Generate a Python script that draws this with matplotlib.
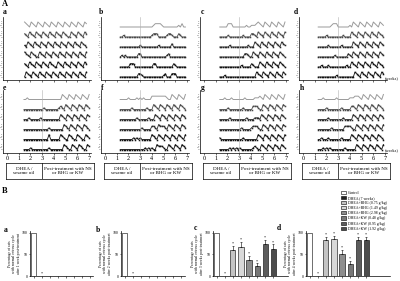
import numpy as np
import matplotlib.pyplot as plt
from matplotlib.patches import Patch

plt.rcParams['font.family'] = ['Liberation Serif', 'DejaVu Serif']

# ---------------- Part A: estrous stage per day (1=D, 2=M, 3=E, 4=P) ----------------
stage_names = ['D', 'M', 'E', 'P']
panels_A = ['a', 'b', 'c', 'd', 'e', 'f', 'g', 'h']
start_weeks = [1.5, 1.3, 1.35, 1.3, 1.45, 1.3, 1.35, 1.3]
weeks = [0, 1, 2, 3, 4, 5, 6, 7]

stages_a = [
    "43214321432143214321432143214321432143",
    "32143214321432143214321432114321432143",
    "21432143214321432143214321432143214321",
    "43214321143214321432143214321432143214",
    "32143214321432143211432143214321432143",
    "14321432143214321432143214321432143214",
]
stages_b = [
    "1111111111111111111123333211111111121311",
    "1121111111111111111233311111233211132111",
    "1111111111112111111111121111111311111111",
    "1212111111133111111111111111231111111111",
    "1111113331111111111133111111111132111111",
    "1111111111133211111111111123111333111111",
]
stages_c = [
    "1111133311111111211222343214321432143214",
    "1111121111111121111332143214321432143214",
    "1111112111111111121114321432143214321432",
    "1111111111111113321143214321432143214321",
    "1111111111111211111321114321432143214321",
    "1112111111111111111111432143214321432143",
]
stages_d = [
    "1111111123331111111214321432143214321432",
    "1111121111111112111143214321432143214321",
    "1111112111111121111114321432143214321432",
    "1111111111211111113214321432143214321432",
    "1121112111111111121143214321432143214321",
    "1111111111121111111111432143214321432143",
]
stages_e = [
    "1121111111111111111111143214321432143214",
    "1111111111112111111112321432143214321432",
    "1112111111211111111111432143214321432143",
    "1111111111111112111111114321432143214321",
    "1111111111111114111111432114321143211432",
    "1111211111111112111111114321143214321143",
]
stages_f = [
    "1111121111212121111333333333211432143214",
    "1111111211111111211143214321432143214321",
    "1111111111211111121114321432143214321432",
    "1111111111111211111332143332143214321432",
    "1111111121212111111432143214321432143214",
    "1111111111111112121211433321143214321432",
]
stages_g = [
    "1112111211111112111112223214321432143214",
    "1111121111111121111133321143214321432143",
    "1111112111111111211112221432143214321432",
    "1111111111111211111233321143214321432143",
    "2111111111111121111111143214321432143214",
    "1111112121212111111123211432143214321432",
]
stages_h = [
    "1112111111121111111222333214321432143214",
    "1111121111111121111133214321432143214321",
    "1111112111111112111114321432143214321432",
    "1111111121111111333321143214321432143214",
    "1121112111111121111143214321432143214321",
    "1112121211111111211111143214321432143214",
]
stages_A = [stages_a, stages_b, stages_c, stages_d,
            stages_e, stages_f, stages_g, stages_h]

# ---------------- Part B: percentage with normal cycle ----------------
groups = ['Control', 'DHEA (7 weeks)', 'DHEA+BHG (0.75 g/kg)', 'DHEA+BHG (1.49 g/kg)',
          'DHEA+BHG (2.98 g/kg)', 'DHEA+KW (0.48 g/kg)', 'DHEA+KW (0.95 g/kg)',
          'DHEA+KW (1.92 g/kg)']
pct_1wk = [100, 0, 0, 0, 0, 0, 0, 0]
pct_2wk = [100, 0, 0, 0, 0, 0, 0, 0]
pct_3wk = [100, 0, 60, 67, 38, 22, 75, 63]
pct_4wk = [100, 0, 83, 86, 50, 28, 83, 83]
err_1wk = [0, 0, 0, 0, 0, 0, 0, 0]
err_2wk = [0, 0, 0, 0, 0, 0, 0, 0]
err_3wk = [0, 0, 10, 12, 9, 7, 8, 10]
err_4wk = [0, 0, 8, 6, 10, 7, 8, 8]
post_labels = ['1 week', '2 weeks', '3 weeks', '4 weeks']
panels_B = ['a', 'b', 'c', 'd']
bar_colors = ['white', '#222222', '#c4c4c4', '#d8d8d8', '#8e8e8e', '#777777', '#5c5c5c', '#4c4c4c']

W, H = 400, 281
fig = plt.figure(figsize=(4, 2.81), dpi=100)


def px_axes(x0, y0, x1, y1):
    return fig.add_axes([x0 / W, 1 - y1 / H, (x1 - x0) / W, (y1 - y0) / H])


def px_text(x, y, s, **kw):
    fig.text(x / W, 1 - y / H, s, **kw)


# ---------------- draw part A ----------------
PPW = 11.7
zero_x = [7, 105, 204, 303]
rows_y = [(17, 80), (89.5, 152.5)]
row_colors = ['#9a9a9a', '#4a4a4a', '#2a2a2a', '#2a2a2a', '#111111', '#111111']
label_pos = [(3, 12), (99, 12), (201, 12), (294, 12), (3, 88), (101, 88), (201, 88), (300, 88)]

px_text(2, 4, 'A', fontweight='bold', fontsize=6, va='center')
for k, (lab, start, stages) in enumerate(zip(panels_A, start_weeks, stages_A)):
    r, c = divmod(k, 4)
    z = zero_x[c]
    y0, y1 = rows_y[r]
    ax = px_axes(z - 0.35 * PPW, y0, z + 7.15 * PPW, y1)
    ax.set_xlim(-0.35, 7.15)
    ax.set_ylim(-1.8, 36)
    for j, s in enumerate(stages):
        vals = np.array([int(ch) for ch in s])
        x = start + np.arange(len(vals)) / 7
        y = (5 - j) * 6 + vals - 1
        if j == 0:
            ax.plot(x, y, color=row_colors[0], lw=0.7)
        else:
            ax.plot(x, y, color=row_colors[j], lw=0.6, marker='s', ms=1.1, mew=0)
    if k != 0:
        ax.axvline(3, color='#b0b0b0', lw=0.4)
    ax.set_yticks([(5 - j) * 6 + l for j in range(6) for l in range(4)])
    ax.set_yticklabels(stage_names * 6)
    ax.tick_params(axis='y', length=0, labelsize=1.6, pad=0.5, labelcolor='#555555')
    ax.set_xticks(weeks)
    ax.tick_params(axis='x', length=1.2, width=0.4, labelsize=4.5, pad=1,
                   labelbottom=(r == 1))
    for sp in ['top', 'right']:
        ax.spines[sp].set_visible(False)
    for sp in ['left', 'bottom']:
        ax.spines[sp].set_linewidth(0.5)
    px_text(*label_pos[k], lab, fontweight='bold', fontsize=5.5, va='center')

px_text(385, 78, '(weeks)', fontsize=3.2, va='center')
px_text(385, 150, '(weeks)', fontsize=3.2, va='center')

for z in zero_x:
    bx = px_axes(z - 1, 163, z + 87, 179)
    bx.set_xlim(-1 / PPW, 87 / PPW)
    bx.set_ylim(0, 1)
    bx.axvline(3, color='black', lw=0.5)
    bx.set_xticks([])
    bx.set_yticks([])
    for sp in bx.spines.values():
        sp.set_linewidth(0.5)
    bx.text((3 - 1 / PPW) / 2, 0.5, 'DHEA /\nsesame oil', ha='center', va='center',
            fontsize=3.6, linespacing=1.2)
    bx.text((3 + 87 / PPW) / 2, 0.5, 'Post-treatment with NS\nor BHG or KW', ha='center',
            va='center', fontsize=3.6, linespacing=1.2)

# ---------------- draw part B ----------------
px_text(2, 191, 'B', fontweight='bold', fontsize=6, va='center')
spine_x = [30, 121, 213, 306]
widths = [63, 64, 75, 84]
labB_pos = [(4, 230), (96, 230), (194, 228), (277, 228)]
pct_all = [pct_1wk, pct_2wk, pct_3wk, pct_4wk]
err_all = [err_1wk, err_2wk, err_3wk, err_4wk]
SLOT = 8.1
pos = np.arange(len(groups))

for i in range(4):
    x0 = spine_x[i]
    ax = px_axes(x0, 231, x0 + widths[i], 276)
    ax.set_xlim(-0.45, widths[i] / SLOT - 0.45)
    ax.set_ylim(0, 104)
    vals = pct_all[i]
    errs = err_all[i]
    ax.bar(pos, vals, width=0.65, color=bar_colors, edgecolor='black', lw=0.4)
    if max(errs) > 0:
        ax.errorbar(pos[2:], vals[2:], yerr=[np.zeros(6), errs[2:]], fmt='none',
                    ecolor='black', elinewidth=0.4, capsize=0.8, capthick=0.4)
        for p, v, e in zip(pos[2:], vals[2:], errs[2:]):
            ax.text(p, v + e + 1, '*', ha='center', va='bottom', fontsize=3)
    ax.text(pos[1], vals[1] + 1, '*', ha='center', va='bottom', fontsize=3)
    ax.set_yticks([0, 50, 100])
    ax.set_xticks(pos)
    ax.set_xticklabels([])
    ax.tick_params(axis='y', length=1.0, width=0.4, labelsize=2.8, pad=0.6)
    ax.tick_params(axis='x', length=1.2, width=0.4)
    for sp in ['top', 'right']:
        ax.spines[sp].set_visible(False)
    for sp in ['left', 'bottom']:
        ax.spines[sp].set_linewidth(0.5)
    ax.set_ylabel('Percentage of rats\nwith normal estrous cycle\nafter %s post-treatment'
                  % post_labels[i], fontsize=2.7, labelpad=1.0, linespacing=1.15)
    px_text(*labB_pos[i], panels_B[i], fontweight='bold', fontsize=5.5, va='center')

handles = [Patch(facecolor=col, edgecolor='black', lw=0.4) for col in bar_colors]
fig.legend(handles, groups, loc='upper left', bbox_to_anchor=(339 / W, 1 - 189 / H),
           fontsize=2.8, frameon=False, handlelength=1.3, handleheight=0.9,
           labelspacing=0.3, borderaxespad=0, handletextpad=0.5)

fig.savefig('out.png', dpi=100)
